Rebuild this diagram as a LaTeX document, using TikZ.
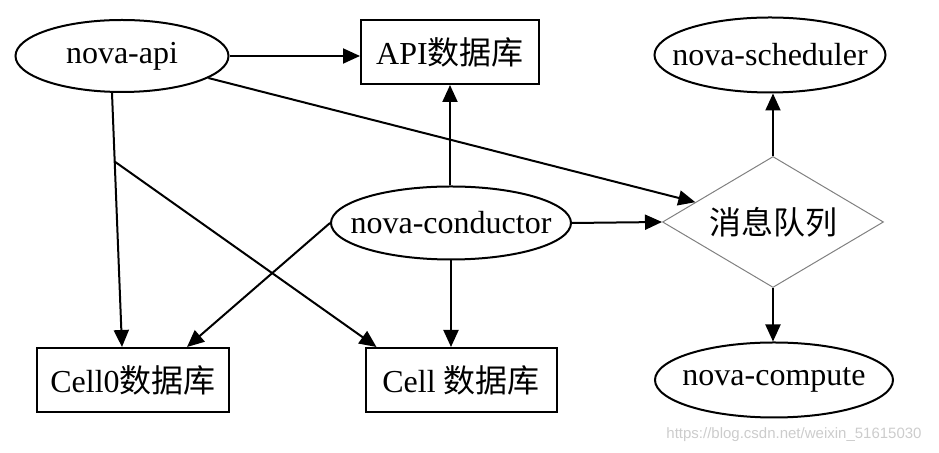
\documentclass[tikz,border=0pt]{standalone}
\usepackage{fontspec}
\setmainfont{Liberation Serif}
\newfontfamily\cjk{Noto Sans CJK SC}
\newfontfamily\wmfont{Liberation Sans}
\usetikzlibrary{shapes.geometric, arrows.meta, positioning, calc}

\begin{document}
\begin{tikzpicture}[x=0.5pt, y=-0.5pt,
    every node/.style={font=\fontsize{16}{19}\selectfont, inner sep=0pt},
    every label/.style={font=\fontsize{16}{19}\selectfont, inner sep=0pt},
    proc/.style={draw, line width=1pt, ellipse},
    dbbox/.style={draw, line width=1pt, rectangle, minimum height=32pt},
    queue/.style={draw=gray, line width=0.5pt, diamond, minimum width=110.5pt, minimum height=65.5pt},
    arr/.style={line width=1pt, -{Triangle[length=8.5pt, width=7.5pt]}}]
  \useasboundingbox (0,0) rectangle (939,453);

  % processes
  \node[proc, minimum width=106.5pt, minimum height=36pt, label=center:nova-api] (api) at (122,56) {};
  \node[proc, minimum width=120pt, minimum height=36.5pt, label=center:nova-conductor] (cond) at (451,223) {};
  \node[proc, minimum width=115.5pt, minimum height=37.5pt, label=center:nova-scheduler] (sched) at (770,55) {};
  \node[proc, minimum width=119pt, minimum height=37.5pt, label=center:nova-compute] (comp) at (774,380) {};

  % databases
  \node[dbbox, minimum width=89pt] (apidb) at (450,52) {API{\cjk 数据库}};
  \node[dbbox, minimum width=96pt] (cell0) at (133,380) {Cell0{\cjk 数据库}};
  \node[dbbox, minimum width=95.5pt] (cell) at (461,380) {Cell {\cjk 数据库}};

  % message queue
  \node[queue, label=center:{\cjk 消息队列}] (mq) at (773,222) {};

  % connectors
  \draw[arr] (api.east) -- (apidb.west |- api.east);
  \draw[arr] (api) -- (mq);
  \draw[arr] ([xshift=-5pt]api.south) -- ([xshift=-5.5pt]cell0.north)
    coordinate[pos=0.27] (split);
  \draw[arr] (split) -- ([xshift=6pt]cell.north west);
  \draw[arr] (cond.north -| apidb.south) -- (apidb.south);
  \draw[arr] (cond.west) -- ([xshift=27pt]cell0.north);
  \draw[arr] (cond.south) -- (cond.south |- cell.north);
  \draw[arr] (cond.east) -- (mq.west);
  \draw[arr] (mq.north) -- (mq.north |- sched.south);
  \draw[arr] (mq.south) -- (mq.south |- comp.north);

  % watermark
  \node[font=\wmfont\fontsize{7.5}{9}\selectfont, text=gray!40] (mark) at (794,435) {https://blog.csdn.net/weixin\_51615030};
\end{tikzpicture}
\end{document}
